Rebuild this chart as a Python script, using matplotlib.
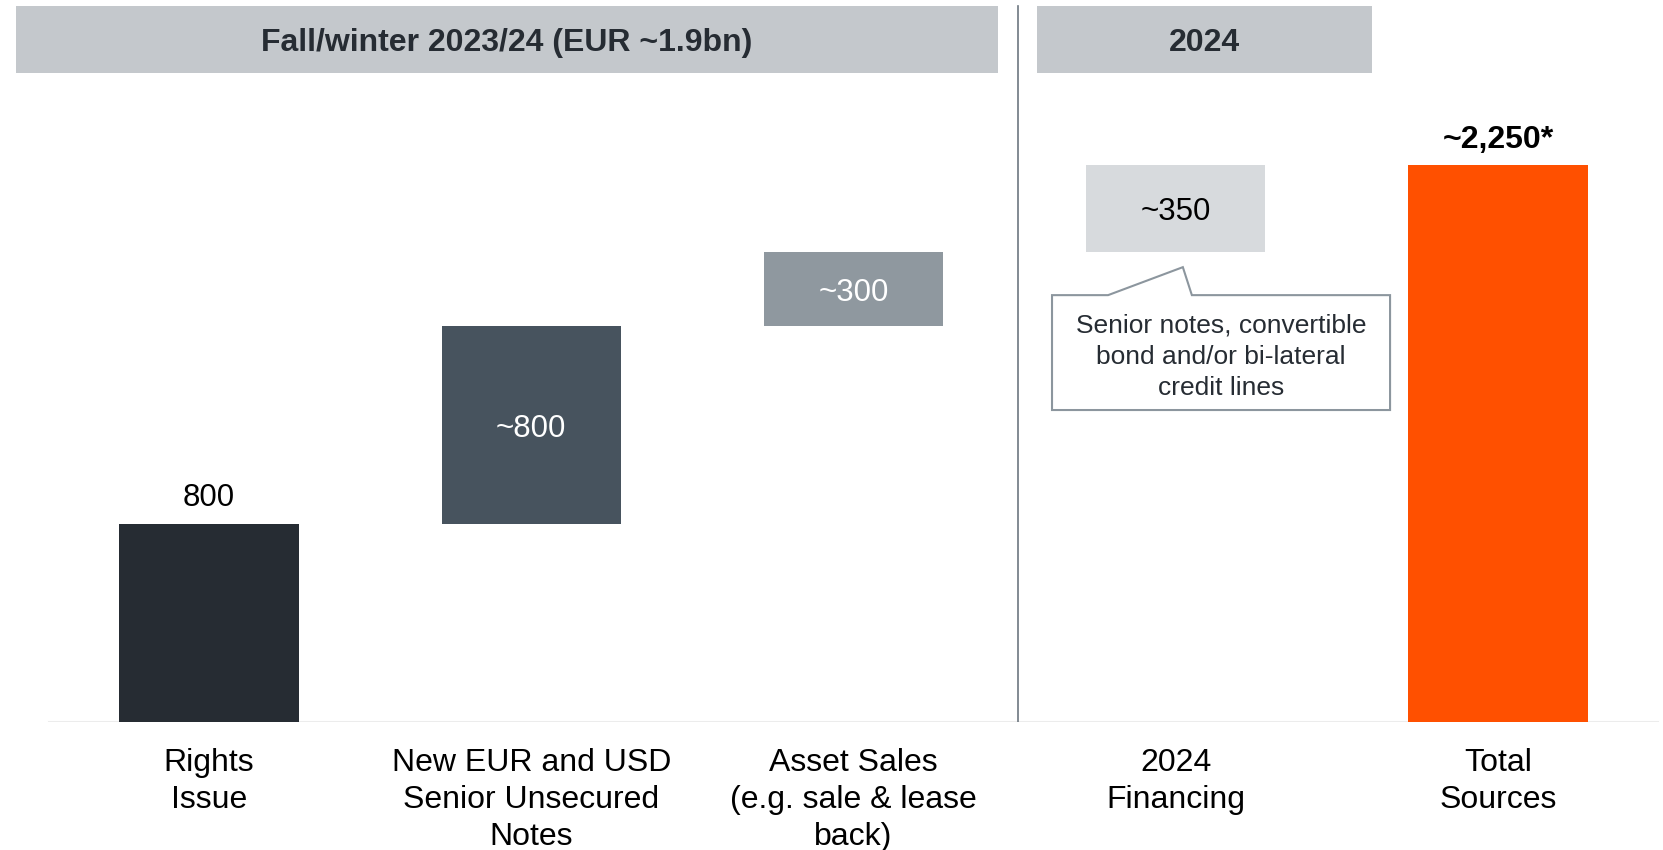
import matplotlib.pyplot as plt
from matplotlib.patches import Rectangle, Polygon

plt.rcParams["font.family"] = ["Liberation Sans", "DejaVu Sans"]

# data
categories = ["Rights\nIssue", "New EUR and USD\nSenior Unsecured\nNotes",
              "Asset Sales\n(e.g. sale & lease\nback)", "2024\nFinancing", "Total\nSources"]
values = [800, 800, 300, 350, 2250]
bottoms = [0, 800, 1600, 1900, 0]
value_labels = ["800", "~800", "~300", "~350", "~2,250*"]
bar_colors = ["#262c33", "#47535e", "#8f989f", "#d7dadd", "#ff5000"]
headers = ["Fall/winter 2023/24 (EUR ~1.9bn)", "2024"]
callout_text = "Senior notes, convertible\nbond and/or bi-lateral\ncredit lines"

W, H = 1663, 850
fig = plt.figure(figsize=(W / 100, H / 100), dpi=100)
ax = fig.add_axes([0, 128 / H, 1, 722 / H])

x = list(range(len(categories)))
ax.bar(x, values, bottom=bottoms, width=0.556, color=bar_colors, zorder=2)
ax.set_xlim(-0.6486, 4.512)
ax.set_ylim(0, 2916)

# value labels
for i in x:
    top = bottoms[i] + values[i]
    if i == 0:
        ax.annotate(value_labels[i], (i, top), xytext=(0, 8), textcoords="offset points",
                    ha="center", va="bottom", fontsize=22.5, color="#000000")
    elif i == 4:
        ax.annotate(value_labels[i], (i, top), xytext=(0, 7), textcoords="offset points",
                    ha="center", va="bottom", fontsize=23, fontweight="bold", color="#000000")
    else:
        txt_color = "#000000" if i == 3 else "white"
        ax.annotate(value_labels[i], (i, bottoms[i] + values[i] / 2), xytext=(0, -3),
                    textcoords="offset points", ha="center", va="center",
                    fontsize=22.5, color=txt_color)

# baseline and separator
ax.axhline(0, xmin=49 / W, xmax=1658 / W, color="#ececec", lw=1.5, zorder=1)
ax.axvline(2.51, ymin=0, ymax=0.992, color="#6d7780", lw=1.2, zorder=1)

# callout
l, r, b, t = 2.616, 3.665, 1260, 1724
pts = [(l, b), (l, t), (2.79, t), (3.022, 1837), (3.05, t), (r, t), (r, b)]
ax.add_patch(Polygon(pts, closed=True, facecolor="white", edgecolor="#8c969e", lw=1.5, zorder=3))
ax.annotate(callout_text, ((l + r) / 2, (b + t) / 2), xytext=(0, -3), textcoords="offset points",
            ha="center", va="center", fontsize=19, color="#262c33", linespacing=1.36, zorder=4)

ax.set_xticks(x)
ax.set_xticklabels(categories, fontsize=23, linespacing=1.3, color="#000000")
ax.tick_params(axis="x", length=0, pad=19)
ax.set_yticks([])
for s in ax.spines.values():
    s.set_visible(False)

# headers
hdr_boxes = [(16, 998), (1037, 1372)]
for (x0, x1), label in zip(hdr_boxes, headers):
    fig.patches.append(Rectangle((x0 / W, 1 - 73 / H), (x1 - x0) / W, 67 / H,
                                 transform=fig.transFigure, facecolor="#c4c8cc",
                                 edgecolor="none", zorder=0))
    fig.text((x0 + x1) / 2 / W, 1 - 43 / H, label, ha="center", va="center",
             fontsize=23, fontweight="bold", color="#262c33")

fig.savefig("out.png", dpi=100)
